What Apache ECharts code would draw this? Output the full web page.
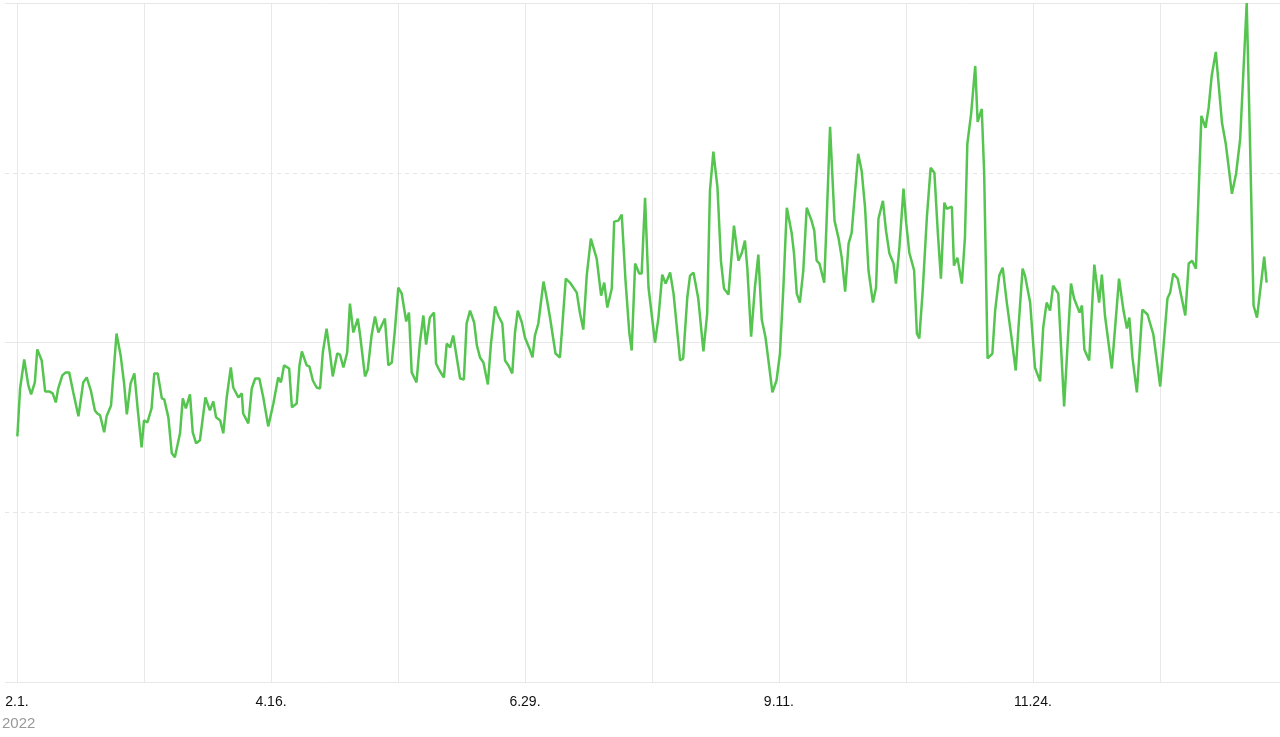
<!DOCTYPE html>
<html><head><meta charset="utf-8">
<script src="https://cdn.jsdelivr.net/npm/echarts@6/dist/echarts.min.js"></script>
<style>html,body{margin:0;padding:0;background:#fff}#c{width:1280px;height:737px}</style>
</head><body><div id="c"></div>
<script>
// days after 2022-02-01
var days = [0.1,0.9,2.1,3.3,4.1,5.2,5.9,7.2,8.2,9.4,10.4,11.3,12.0,13.2,14.2,15.2,16.4,17.9,19.3,20.3,21.5,22.7,23.4,24.2,25.4,26.1,27.4,29.0,30.2,31.2,32.0,33.1,34.2,35.2,36.3,37.0,38.0,39.2,40.0,41.0,42.2,42.9,44.1,45.1,46.0,47.5,48.3,49.2,50.4,51.2,52.2,53.3,54.9,56.2,57.2,58.0,59.2,
60.1,61.1,62.3,63.0,64.5,65.5,65.9,67.4,68.4,69.4,70.6,71.8,73.2,74.7,76.1,76.9,77.8,79.3,80.1,81.5,82.3,83.0,84.4,85.2,86.2,87.3,88.3,89.1,90.2,91.2,92.0,93.3,94.1,95.1,96.2,97.0,98.0,99.3,99.9,101.4,102.2,103.3,104.3,105.3,107.2,108.2,109.2,110.1,111.1,112.1,113.4,114.2,115.0,116.4,117.4,118.4,119.2,120.3,
121.5,122.1,123.1,124.4,125.2,126.2,127.1,129.1,130.2,131.0,132.0,133.2,134.0,134.9,135.9,137.2,138.1,139.3,140.2,141.4,142.2,143.2,144.3,145.1,145.9,147.1,148.0,149.3,150.2,150.9,151.9,153.4,154.3,155.3,156.9,158.2,159.9,161.1,163.1,164.0,165.0,166.0,167.2,168.9,170.2,171.1,172.0,173.3,174.0,175.2,176.2,177.3,178.4,179.1,180.1,181.3,
182.0,183.0,184.0,185.9,186.9,188.0,189.0,190.3,191.3,193.2,194.1,195.3,196.1,197.1,198.5,200.0,201.1,201.9,202.9,204.1,205.1,206.0,207.3,208.9,210.2,211.2,212.1,212.8,213.9,215.0,216.0,217.0,218.1,219.2,220.1,221.3,222.3,223.3,224.3,225.7,226.4,227.2,228.1,229.1,230.1,231.5,232.3,233.0,233.8,235.2,235.9,236.9,238.2,239.4,240.3,241.3,242.3,
243.2,245.1,246.1,247.1,248.1,249.4,250.3,251.0,252.3,253.2,254.2,255.4,256.1,257.1,258.3,259.1,260.0,261.4,262.2,262.9,263.9,265.1,266.2,267.3,268.3,269.2,270.2,270.9,272.4,273.0,274.0,275.3,276.2,276.9,278.0,279.2,279.9,281.1,281.8,282.8,284.2,285.0,286.2,287.2,288.4,289.8,291.0,291.8,293.0,293.7,295.2,296.6,298.1,299.0,300.0,301.0,301.9,303.4,
305.1,307.1,308.0,309.6,310.3,311.0,312.4,313.9,315.3,316.1,317.0,319.0,321.1,322.4,323.4,324.1,325.0,326.3,327.9,329.4,331.1,333.1,335.2,336.0,336.9,338.2,340.4,341.4,342.4,343.5,345.1,346.3,347.2,348.1,349.3,351.1,352.2,354.0,355.2,356.4,358.3,359.3,360.3,361.3,363.4,364.1];
var values = [144.7,172.9,190,174.7,169.4,176.5,195.9,189.4,171.2,171.2,170,164.7,172.9,180.6,182.4,182.4,170.6,156.5,176.5,179.4,171.8,160,158.2,157.1,147.1,156.5,162.9,205.3,192.4,175.9,157.6,175.9,181.8,160,138.2,154.1,152.9,161.2,181.8,181.8,167.1,166.5,155.9,134.7,132.4,146.5,167.1,161.2,169.4,147.1,140.6,142.4,167.6,160,165.3,155.9,154.1,
146.5,167.6,185.3,173.5,167.6,170,158.2,152.4,172.9,178.8,178.8,167.1,150.6,164.1,179.4,176.5,186.5,184.7,161.8,164.1,186.5,194.7,186.5,185.9,177.6,173.5,172.9,194.1,208.2,193.5,180,193.5,192.9,185.3,194.1,222.9,205.9,214.1,205.3,180,184.1,204.1,215.3,205.9,214.1,186.5,188.2,207.1,232.4,228.8,212.4,217.6,182.4,176.5,200,215.9,198.8,214.7,
217.6,187.6,183.5,179.4,199.4,197.1,204.1,178.8,178.2,211.2,218.8,211.8,198.2,191.2,188.2,175.3,199.4,221.2,215.9,211.2,189.4,186.5,181.8,205.9,218.8,211.8,202.9,196.5,191.2,204.1,211.2,235.9,226.5,214.7,193.5,191.2,237.6,235.3,229.4,217.6,207.6,239.4,261.2,249.4,227.6,235.3,220.6,231.8,271.2,271.8,275.3,236.5,205.9,195.3,246.5,240.6,
240.6,285.3,232.4,200,214.7,240,234.7,241.2,228.8,189.4,190.6,226.5,239.4,241.2,225.9,194.7,217.1,289.4,312.4,291.2,248.2,231.8,228.2,268.8,248.2,252.9,260,243.5,203.5,232.4,251.8,213.5,202.9,185.3,170.6,177.6,193.5,232.4,279.4,264.7,252.4,228.8,223.5,242.4,279.4,271.8,265.9,248.2,246.5,235.3,271.8,327.1,271.8,261.2,250,230,258.2,
264.7,311.2,301.2,279.4,242.4,223.5,232.4,272.9,283.5,265.9,252.4,246.5,234.7,255.9,290.6,270,252.9,242.4,205.3,202.4,230.6,273.5,302.9,300,264.7,237.6,282.4,278.8,280,245.3,250,234.7,261.8,317.1,334.7,362.9,330,337.6,300,190.6,193.5,218.8,239.4,244.1,223.5,202.4,183.5,208.8,243.5,239.4,223.5,185.3,177.1,208.8,223.5,218.8,233.5,228.8,
162.4,234.7,225.9,217.6,221.8,195.9,189.4,245.9,223.5,240,215.9,184.7,237.6,218.8,208.2,214.7,191.2,170.6,219.4,216.5,204.7,174.1,225.9,229.4,240.6,237.6,215.9,246.5,248.2,243.5,333.5,326.5,338.2,357.1,371.2,329.4,317.1,287.6,299.4,320,400,314.7,221.8,214.7,250.6,235.3];
var gridDays = [0,37,74,111,148,185,222,259,296,333];
var labelDays = [0,74,148,222,296];
var startYear = 2022;

var data = days.map(function(d,i){return [d, values[i]];});
function fmt(v){
  var t = new Date(Date.UTC(2022,1,1) + Math.round(v)*86400000);
  return (t.getUTCMonth()+1) + '.' + t.getUTCDate() + '.';
}
var chart = echarts.init(document.getElementById('c'), null, {renderer:'canvas'});
chart.setOption({
  animation:false,
  grid:{left:5,right:0,top:3,bottom:55,containLabel:false},
  xAxis:{type:'value',min:-3.5,max:368,
    axisLine:{show:false},
    axisTick:{show:false,customValues:gridDays},
    axisLabel:{customValues:labelDays,formatter:fmt,color:'#111',fontSize:14,fontFamily:'Liberation Sans, Arial, sans-serif',margin:13},
    splitLine:{show:true,customValues:gridDays,lineStyle:{color:'#e8e8e8',width:1}}
  },
  yAxis:[{type:'value',min:0,max:400,interval:100,axisLabel:{show:false},axisLine:{show:false},axisTick:{show:false},
    splitLine:{lineStyle:{color:'#e6e6e6',type:[4,4],width:1}}},
    {type:'value',min:0,max:400,interval:200,axisLabel:{show:false},axisLine:{show:false},axisTick:{show:false},
    splitLine:{lineStyle:{color:'#e8e8e8',width:1}}}],
  graphic:[{type:'text',left:2,top:716,style:{text:String(startYear),fill:'#999',fontSize:15,fontFamily:'Liberation Sans, Arial, sans-serif'}}],
  series:[{type:'line',data:data,showSymbol:false,symbol:'none',lineStyle:{color:'#55c550',width:2.5},itemStyle:{color:'#55c550'}}]
});
</script></body></html>
